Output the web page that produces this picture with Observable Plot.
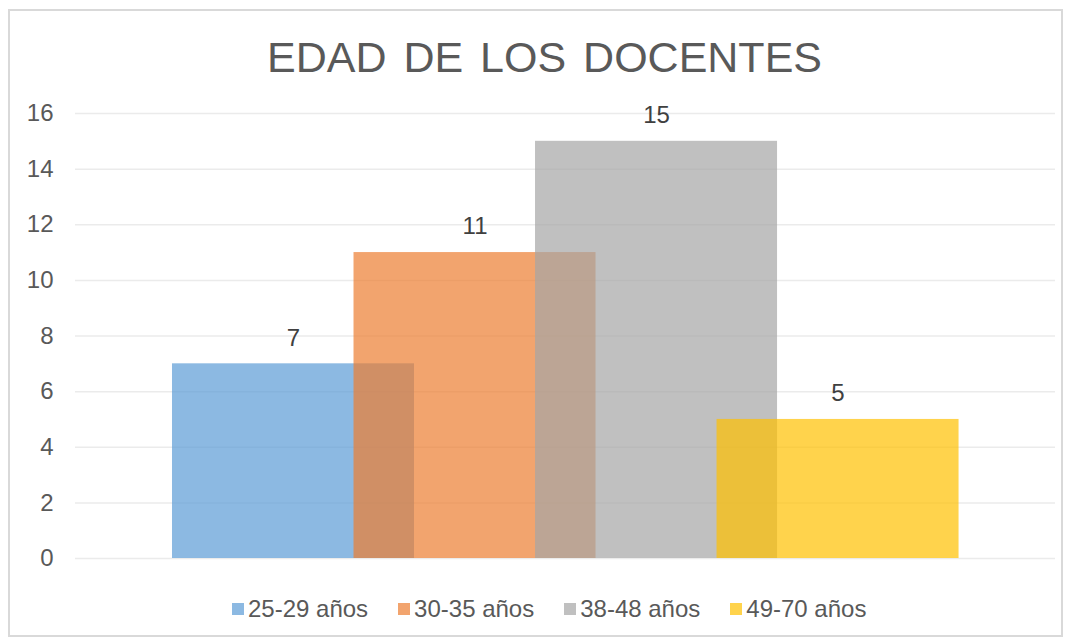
<!DOCTYPE html>
<html>
<head>
<meta charset="utf-8">
<script src="https://cdn.jsdelivr.net/npm/d3@7"></script>
<script src="https://cdn.jsdelivr.net/npm/@observablehq/plot@0.6"></script>
<style>
  html, body { margin: 0; padding: 0; background: #fff; }
  #wrap { position: relative; width: 1070px; height: 642px; overflow: hidden; font-family: "Liberation Sans", Arial, sans-serif; }
  #frame { position: absolute; left: 8px; top: 9px; width: 1051px; height: 624px; border: 2px solid #D9D9D9; }
  #title { position: absolute; top: 35px; left: 544.5px; transform: translateX(-50%); font-size: 43px; line-height: 44px; word-spacing: 5px; color: #595959; white-space: nowrap; }
  #chart { position: absolute; left: 0; top: 85px; }
  #legend { position: absolute; left: 232px; top: 597px; display: flex; align-items: center; font-size: 24px; line-height: 24px; color: #595959; white-space: nowrap; }
  .item { display: flex; align-items: center; margin-right: 30px; }
  .sw { width: 12px; height: 12px; margin-right: 4px; }
</style>
</head>
<body>
<div id="wrap">
  <div id="frame"></div>
  <div id="title">EDAD DE LOS DOCENTES</div>
  <div id="chart"></div>
  <div id="legend"></div>
</div>
<script>
const series = ["25-29 años", "30-35 años", "38-48 años", "49-70 años"];
const values = [7, 11, 15, 5];
const colors = ["#5B9BD5", "#ED7D31", "#A5A5A5", "#FFC000"];
const yTicks = [0, 2, 4, 6, 8, 10, 12, 14, 16];

const data = series.map((s, i) => ({series: s, value: values[i], i}));
const half = 2 / 3;

const plot = Plot.plot({
  width: 1070,
  height: 500,
  marginLeft: 75,
  marginRight: 15,
  marginTop: 28,
  marginBottom: 27,
  style: {fontSize: "24px", fontFamily: "'Liberation Sans', Arial, sans-serif", color: "#595959", background: "transparent", overflow: "visible"},
  x: {domain: [-1.201, 4.198], axis: null},
  y: {domain: [0, 16]},
  color: {domain: series, range: colors},
  marks: [
    Plot.ruleY(yTicks, {stroke: "#EBEBEB", strokeWidth: 1.5}),
    Plot.axisY(yTicks, {tickSize: 0, tickPadding: 22, label: null, fontSize: 24}),
    Plot.rectY(data, {x1: d => d.i - half, x2: d => d.i + half, y1: 0, y2: "value", fill: "series", fillOpacity: 0.7}),
    Plot.text(data, {x: "i", y: "value", text: d => String(d.value), dy: -26, fill: "#404040", fontSize: 24})
  ]
});
document.getElementById("chart").appendChild(plot);

const legend = document.getElementById("legend");
series.forEach((s, i) => {
  const item = document.createElement("div");
  item.className = "item";
  const sw = document.createElement("div");
  sw.className = "sw";
  sw.style.background = colors[i];
  sw.style.opacity = 0.7;
  const t = document.createElement("span");
  t.textContent = s;
  item.appendChild(sw);
  item.appendChild(t);
  legend.appendChild(item);
});
</script>
</body>
</html>
